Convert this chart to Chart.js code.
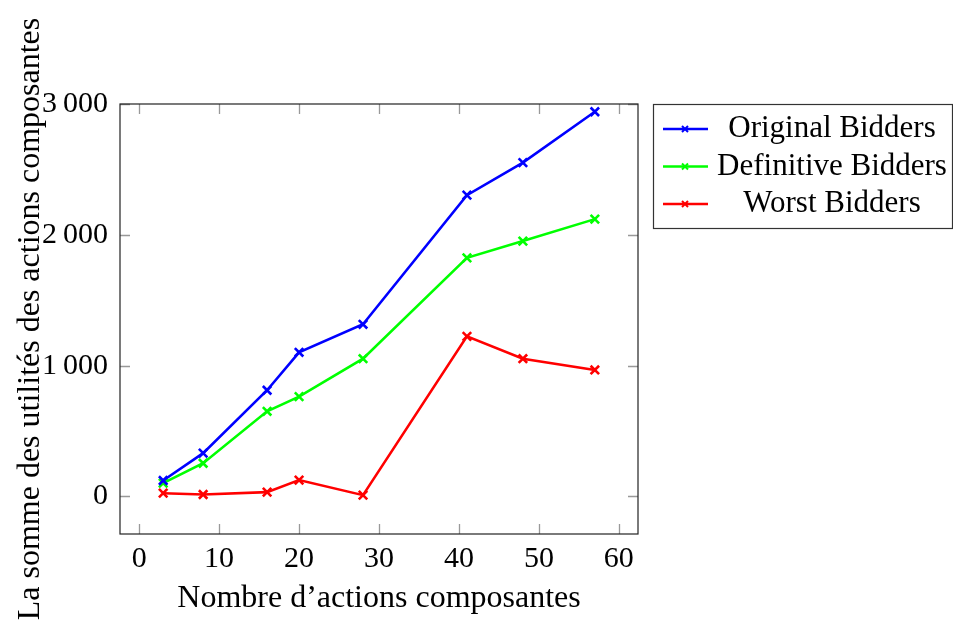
<!DOCTYPE html>
<html>
<head>
<meta charset="utf-8">
<script src="https://cdn.jsdelivr.net/npm/chart.js@4"></script>
<style>
  html, body { margin: 0; padding: 0; background: #fff; }
  #wrap { width: 953px; height: 623px; }
</style>
</head>
<body>
<div id="wrap"><canvas id="chart" width="953" height="623"></canvas></div>
<script>
// data
const actions = [3, 8, 16, 20, 28, 41, 48, 57];
const originalBidders = [122, 331, 812, 1102, 1316, 2303, 2552, 2941];
const definitiveBidders = [102, 254, 651, 763, 1053, 1824, 1952, 2120];
const worstBidders = [25, 15, 33, 125, 10, 1224, 1053, 967];

const seriesNames = ['Original Bidders', 'Definitive Bidders', 'Worst Bidders'];
const seriesColors = ['#0000ff', '#00ff00', '#ff0000'];

const xTicks = [0, 10, 20, 30, 40, 50, 60];
const yTicks = [0, 1000, 2000, 3000];

const FONT = '"Liberation Serif", "DejaVu Serif", serif';

function toPoints(values) {
  return actions.map((x, i) => ({ x: x, y: values[i] }));
}

function makeSet(idx, values) {
  return {
    label: seriesNames[idx],
    data: toPoints(values),
    borderColor: seriesColors[idx],
    backgroundColor: seriesColors[idx],
    borderWidth: 2.6,
    pointStyle: 'crossRot',
    pointRadius: 6,
    pointBorderWidth: 2.6,
    tension: 0
  };
}

// frame, inner tick marks and boxed legend
const framePlugin = {
  id: 'frame',
  afterDraw(chart) {
    const ctx = chart.ctx;
    const a = chart.chartArea;
    const xs = chart.scales.x, ys = chart.scales.y;
    ctx.save();
    ctx.strokeStyle = '#999';
    ctx.lineWidth = 1.3;
    const tl = 10;
    xTicks.forEach(v => {
      const px = Math.round(xs.getPixelForValue(v)) + 0.5;
      ctx.beginPath();
      ctx.moveTo(px, a.bottom); ctx.lineTo(px, a.bottom - tl);
      ctx.moveTo(px, a.top); ctx.lineTo(px, a.top + tl);
      ctx.stroke();
    });
    yTicks.forEach(v => {
      const py = Math.round(ys.getPixelForValue(v)) + 0.5;
      ctx.beginPath();
      ctx.moveTo(a.left, py); ctx.lineTo(a.left + tl, py);
      ctx.moveTo(a.right, py); ctx.lineTo(a.right - tl, py);
      ctx.stroke();
    });
    ctx.strokeStyle = '#222';
    ctx.lineWidth = 1.2;
    ctx.strokeRect(a.left, a.top, a.right - a.left, a.bottom - a.top);

    // legend
    const lx = 653, ly = 104, lw = 300, lh = 125;
    ctx.strokeStyle = '#333';
    ctx.lineWidth = 1.2;
    ctx.strokeRect(lx + 0.5, ly + 0.5, lw - 1, lh - 1);
    ctx.font = '31px ' + FONT;
    ctx.textAlign = 'center';
    ctx.textBaseline = 'middle';
    chart.data.datasets.forEach((ds, i) => {
      const cy = 129 + i * 37.5;
      ctx.strokeStyle = ds.borderColor;
      ctx.lineWidth = 2.6;
      ctx.beginPath();
      ctx.moveTo(663, cy); ctx.lineTo(708, cy);
      ctx.stroke();
      ctx.lineWidth = 2;
      ctx.beginPath();
      ctx.moveTo(682, cy - 3); ctx.lineTo(688, cy + 3);
      ctx.moveTo(682, cy + 3); ctx.lineTo(688, cy - 3);
      ctx.stroke();
      ctx.fillStyle = '#000';
      ctx.fillText(ds.label, 832, cy);
    });
    ctx.restore();
  }
};

new Chart(document.getElementById('chart'), {
  type: 'line',
  data: {
    datasets: [
      makeSet(0, originalBidders),
      makeSet(1, definitiveBidders),
      makeSet(2, worstBidders)
    ]
  },
  options: {
    responsive: false,
    animation: false,
    layout: { padding: { top: 104, right: 315, bottom: 0, left: 0 } },
    plugins: { legend: { display: false }, tooltip: { enabled: false } },
    scales: {
      x: {
        type: 'linear',
        min: -2.4,
        max: 62.4,
        afterBuildTicks: s => { s.ticks = xTicks.map(v => ({ value: v })); },
        afterFit: s => { s.height = 89; },
        grid: { display: false, drawTicks: false },
        border: { display: false },
        ticks: {
          color: '#000',
          font: { family: FONT, size: 30 },
          padding: 7,
          maxRotation: 0
        },
        title: {
          display: true,
          text: 'Nombre d\u2019actions composantes',
          color: '#000',
          font: { family: FONT, size: 32 },
          padding: { top: 0, bottom: 5 }
        }
      },
      y: {
        type: 'linear',
        min: -287,
        max: 3000,
        afterBuildTicks: s => { s.ticks = yTicks.map(v => ({ value: v })); },
        afterFit: s => { s.width = 120; },
        grid: { display: false, drawTicks: false },
        border: { display: false },
        ticks: {
          color: '#000',
          font: { family: FONT, size: 30 },
          padding: 12,
          callback: v => v >= 1000 ? Math.floor(v / 1000) + '\u2009' + String(v % 1000).padStart(3, '0') : String(v)
        },
        title: {
          display: true,
          text: 'La somme des utilités des actions composantes',
          color: '#000',
          font: { family: FONT, size: 32 },
          padding: { top: 11, bottom: 0 }
        }
      }
    }
  },
  plugins: [framePlugin]
});
</script>
</body>
</html>
